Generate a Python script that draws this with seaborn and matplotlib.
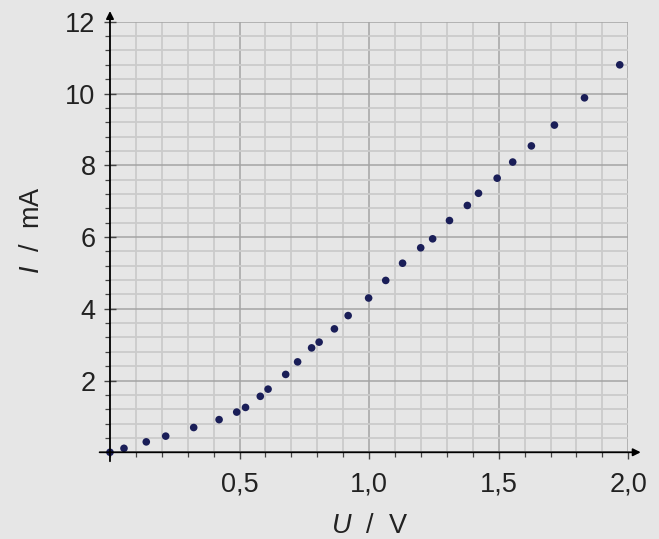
import numpy as np
import pandas as pd
import matplotlib
matplotlib.use("Agg")
import matplotlib.pyplot as plt
from matplotlib.ticker import MultipleLocator, FixedLocator, FuncFormatter
import seaborn as sns

# Messwerte (U in V, I in mA)
U = [0.0, 0.054, 0.140, 0.215, 0.323, 0.421, 0.489, 0.523, 0.580, 0.610,
     0.678, 0.724, 0.778, 0.807, 0.866, 0.919, 0.998, 1.064, 1.129, 1.199,
     1.245, 1.310, 1.379, 1.422, 1.494, 1.554, 1.626, 1.715, 1.831, 1.967]
I = [0.0, 0.11, 0.29, 0.45, 0.69, 0.91, 1.12, 1.25, 1.56, 1.76,
     2.17, 2.52, 2.91, 3.07, 3.44, 3.81, 4.30, 4.79, 5.27, 5.70,
     5.95, 6.46, 6.88, 7.22, 7.64, 8.09, 8.54, 9.12, 9.88, 10.80]

x_ticks = [0.5, 1.0, 1.5, 2.0]
y_ticks = [2, 4, 6, 8, 10, 12]

df = pd.DataFrame({"U": U, "I": I})

sns.set_theme(style="white")
bg = "#e6e6e6"
plt.rcParams["font.family"] = ["Liberation Sans", "DejaVu Sans"]
plt.rcParams["mathtext.fontset"] = "custom"
plt.rcParams["mathtext.it"] = "Liberation Sans:italic"
plt.rcParams["mathtext.rm"] = "Liberation Sans"

fig = plt.figure(figsize=(6.59, 5.39), dpi=100, facecolor=bg)
ax = fig.add_axes([0.1669, 0.1609, 0.9534 - 0.1669, 0.9596 - 0.1609])
ax.set_facecolor(bg)

sns.scatterplot(data=df, x="U", y="I", ax=ax, color="#1a1e58", s=30,
                edgecolor="none", zorder=5, clip_on=False)

ax.set_xlim(0, 2)
ax.set_ylim(0, 12)

ax.xaxis.set_major_locator(FixedLocator(x_ticks))
ax.xaxis.set_minor_locator(MultipleLocator(0.1))
ax.yaxis.set_major_locator(FixedLocator(y_ticks))
ax.yaxis.set_minor_locator(MultipleLocator(0.4))
ax.xaxis.set_major_formatter(FuncFormatter(lambda v, p: f"{v:.1f}".replace(".", ",")))
ax.yaxis.set_major_formatter(FuncFormatter(lambda v, p: f"{v:.0f}"))

ax.grid(which="minor", color="#cbcbcb", lw=1.3)
ax.grid(which="major", color="#a4a4a4", lw=1.1)
ax.set_axisbelow(True)

for s in ax.spines.values():
    s.set_visible(False)

ax.tick_params(axis="x", which="both", bottom=True, direction="out",
               color="#444444", labelsize=19.5, pad=9)
ax.tick_params(axis="x", which="major", length=5, width=1)
ax.tick_params(axis="x", which="minor", length=3.5, width=0.9)
ax.tick_params(axis="y", which="both", left=True, color="#444444", labelsize=19.5)
ax.tick_params(axis="y", which="major", direction="inout", length=9, width=1, pad=6)
ax.tick_params(axis="y", which="minor", direction="out", length=3.5, width=0.9)
for lab in ax.get_xticklabels() + ax.get_yticklabels():
    lab.set_color("#222222")

# Achsen mit Pfeilen
ax.annotate("", xy=(2.048, 0), xytext=(-0.04, 0), xycoords="data",
            arrowprops=dict(arrowstyle="-|>", lw=1.3, color="black",
                            mutation_scale=11, shrinkA=0, shrinkB=0),
            annotation_clip=False, zorder=6)
ax.annotate("", xy=(0, 12.3), xytext=(0, -0.25), xycoords="data",
            arrowprops=dict(arrowstyle="-|>", lw=1.3, color="black",
                            mutation_scale=11, shrinkA=0, shrinkB=0),
            annotation_clip=False, zorder=6)

ax.set_xlabel("$U$  /  V", fontsize=19.5, color="#222222")
ax.set_ylabel("$I$  /  mA", fontsize=19.5, color="#222222")
ax.xaxis.set_label_coords(0.5, -0.141)
ax.yaxis.set_label_coords(-0.125, 0.515)

fig.savefig("out.png", dpi=100, facecolor=bg)
